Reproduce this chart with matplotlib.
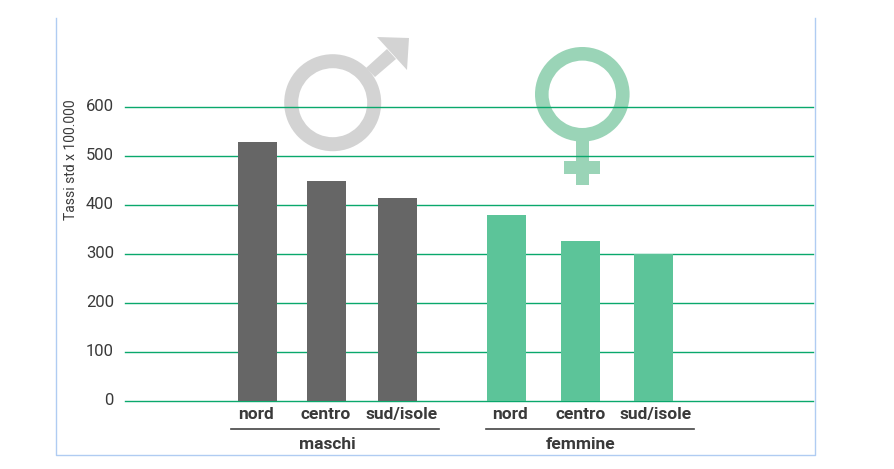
import matplotlib
matplotlib.use('Agg')
import matplotlib.pyplot as plt
from matplotlib.patches import Wedge, Polygon, Rectangle
from matplotlib.transforms import ScaledTranslation

plt.rcParams['font.family'] = ['Roboto', 'DejaVu Sans']

regions = ['nord', 'centro', 'sud/isole']
maschi = [528, 448, 414]
femmine = [380, 326, 300]
y_ticks = [0, 100, 200, 300, 400, 500, 600]

# positions on the page, in pixels
bars_m = [258, 327, 397.5]
bars_f = [507, 580.5, 653.5]
labels_x = [256, 326, 402, 510, 581, 656]
bar_w = 39

grey = '#666666'
green = '#5cc499'
grid_col = '#0aa86c'
frame_col = '#b0ccf2'
text_col = '#3a3a3a'

fig = plt.figure(figsize=(8.95, 4.69), dpi=100)

# background layer in pixel coords: frame, symbols
bg = fig.add_axes([0, 0, 1, 1], zorder=0)
bg.set_xlim(0, 895)
bg.set_ylim(469, 0)
bg.axis('off')
bg.plot([56.5, 56.5, 815.5, 815.5], [18, 455.5, 455.5, 18], color=frame_col, lw=1)

sym_m = '#d3d3d3'
bg.add_patch(Wedge((332.7, 102.7), 48.5, 0, 360, width=14, color=sym_m, lw=0))
bg.add_patch(Polygon([(366, 68), (375, 77), (396, 59), (387, 49)], color=sym_m, lw=0))
bg.add_patch(Polygon([(377, 37), (409, 38), (407, 70)], color=sym_m, lw=0))

sym_f = '#9ad4b7'
bg.add_patch(Wedge((582.3, 94.3), 47.3, 0, 360, width=13.6, color=sym_f, lw=0))
bg.add_patch(Rectangle((576, 140), 13, 45, color=sym_f, lw=0))
bg.add_patch(Rectangle((564.5, 161), 35.5, 13, color=sym_f, lw=0))

# main chart
ax = fig.add_axes([125 / 895, (469 - 401) / 469, 688 / 895, 383 / 469], zorder=1)
ax.patch.set_alpha(0)
ax.set_xlim(125, 813)
ax.set_ylim(0, 383 / 0.49)
ax.bar(bars_m, maschi, width=bar_w, color=grey, zorder=3)
ax.bar(bars_f, femmine, width=bar_w, color=green, zorder=3)

ax.set_yticks(y_ticks)
ax.set_yticklabels([str(v) for v in y_ticks], fontsize=12, color=text_col)
ax.set_xticks(labels_x)
ax.set_xticklabels(regions + regions, fontsize=12.5, fontweight='bold', color=text_col)
ax.tick_params(axis='y', length=0, pad=8)
ax.tick_params(axis='x', length=0, pad=4)
ax.yaxis.grid(True, color=grid_col, lw=1.0, clip_on=False)
ax.set_axisbelow(True)
for s in ax.spines.values():
    s.set_visible(False)

# y labels sit a little above their lines
up = ScaledTranslation(0, 1.5 / 72, fig.dpi_scale_trans)
for lab in ax.get_yticklabels():
    lab.set_transform(lab.get_transform() + up)

# group labels under the regions
fg = fig.add_axes([0, 0, 1, 1], zorder=2)
fg.set_xlim(0, 895)
fg.set_ylim(469, 0)
fg.axis('off')
fg.plot([231, 439.5], [429.5, 429.5], color='#444444', lw=1.2)
fg.plot([486, 694.5], [429.5, 429.5], color='#444444', lw=1.2)
fg.text(327, 444.5, 'maschi', ha='center', va='center', fontsize=12.5, fontweight='bold', color=text_col)
fg.text(581, 444.5, 'femmine', ha='center', va='center', fontsize=12.5, fontweight='bold', color=text_col)
fg.text(71.5, 159.5, 'Tassi std x 100.000', rotation=90, ha='center', va='center', fontsize=10, color=text_col)

fig.savefig('out.png', dpi=100)
